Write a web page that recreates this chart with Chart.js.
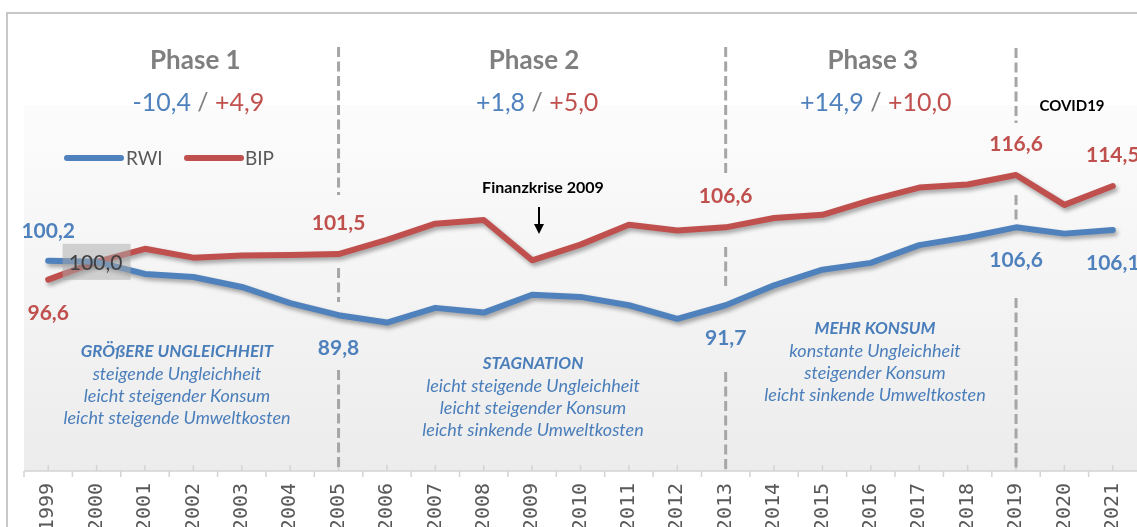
<!DOCTYPE html>
<html><head><meta charset="utf-8">
<script src="https://cdn.jsdelivr.net/npm/chart.js@4/dist/chart.umd.min.js"></script>
<style>html,body{margin:0;padding:0;background:#fff;overflow:hidden}canvas{display:block}</style>
</head><body>
<canvas id="c" width="1137" height="527"></canvas>
<script>
// ---- data ----
const years = ['1999','2000','2001','2002','2003','2004','2005','2006','2007','2008','2009','2010','2011','2012','2013','2014','2015','2016','2017','2018','2019','2020','2021'];
const rwi = [100.2,100.0,97.7,97.1,95.2,92.1,89.8,88.4,91.2,90.3,93.7,93.3,91.7,89.1,91.7,95.5,98.5,99.8,103.2,104.7,106.6,105.4,106.1];
const bip = [96.6,100.0,102.5,100.8,101.2,101.3,101.5,104.2,107.3,108.0,100.3,103.3,107.1,106.0,106.6,108.4,109.0,111.8,114.2,114.8,116.6,110.9,114.5];
const seriesNames = ['RWI','BIP'];
const phaseTitles = ['Phase 1','Phase 2','Phase 3'];
const phaseRwi = ['-10,4','+1,8','+14,9'];
const phaseBip = ['+4,9','+5,0','+10,0'];
const phaseCenterYears = ['2002','2009','2016'];
const phaseBreakYears = ['2005','2013','2019'];
const labelYears = ['1999','2005','2013','2019','2021'];
const baseYear = '2000';
const phaseNotes = [
  ['GRÖßERE UNGLEICHHEIT','steigende Ungleichheit','leicht steigender Konsum','leicht steigende Umweltkosten'],
  ['STAGNATION','leicht steigende Ungleichheit','leicht steigender Konsum','leicht sinkende Umweltkosten'],
  ['MEHR KONSUM','konstante Ungleichheit','steigender Konsum','leicht sinkende Umweltkosten']
];
const eventNotes = ['Finanzkrise 2009','COVID19'];

// ---- style ----
const BLUE = '#4f81bd', RED = '#c0504d', GRAY = '#7f7f7f';
const F = 'Lato, "Open Sans", sans-serif';
const fmt = v => v.toFixed(1).replace('.', ',');

const deco = {
  id: 'deco',
  beforeDraw(chart) {
    const {ctx, chartArea: a} = chart;
    ctx.save();
    ctx.fillStyle = '#fff';
    ctx.fillRect(0, 0, chart.width, chart.height);
    const g = ctx.createLinearGradient(0, a.top, 0, a.bottom);
    g.addColorStop(0, '#fcfcfc');
    g.addColorStop(1, '#ececec');
    ctx.fillStyle = g;
    ctx.fillRect(a.left, a.top, a.right - a.left, a.bottom - a.top);
    ctx.strokeStyle = '#c8c8c8';
    ctx.lineWidth = 2;
    ctx.beginPath();
    ctx.moveTo(7, chart.height + 2); ctx.lineTo(7, 13); ctx.lineTo(chart.width + 2, 13);
    ctx.stroke();
    ctx.restore();
  },
  beforeDatasetsDraw(chart) {
    const {ctx, chartArea: a, scales: {x}} = chart;
    ctx.save();
    ctx.strokeStyle = '#d4d4d4';
    ctx.lineWidth = 1.5;
    ctx.beginPath();
    ctx.moveTo(a.left, a.bottom); ctx.lineTo(a.right, a.bottom);
    const step = x.getPixelForValue(1) - x.getPixelForValue(0);
    years.forEach((y, i) => {
      const px = x.getPixelForValue(i);
      ctx.moveTo(px, a.bottom - 6); ctx.lineTo(px, a.bottom);
      const bx = px - step / 2;
      ctx.moveTo(bx, a.bottom); ctx.lineTo(bx, a.bottom + 6);
    });
    ctx.stroke();
    const segs = [
      [[47,195],[268,302],[370,a.bottom]],
      [[47,177],[247,288],[372,a.bottom]],
      [[48,123],[195,222],[298,a.bottom]]
    ];
    ctx.strokeStyle = '#a6a6a6';
    ctx.lineWidth = 3;
    ctx.setLineDash([10, 4.5]);
    phaseBreakYears.forEach((yr, k) => {
      const px = x.getPixelForValue(years.indexOf(yr));
      segs[k].forEach(([y0, y1]) => {
        ctx.beginPath(); ctx.moveTo(px, y0); ctx.lineTo(px, y1); ctx.stroke();
      });
    });
    ctx.restore();
  },
  beforeDatasetDraw(chart) {
    const ctx = chart.ctx;
    ctx.save();
    ctx.shadowColor = 'rgba(0,0,0,0.35)';
    ctx.shadowBlur = 4;
    ctx.shadowOffsetX = 2;
    ctx.shadowOffsetY = 3;
  },
  afterDatasetDraw(chart) { chart.ctx.restore(); },
  afterDatasetsDraw(chart) {
    const {ctx, scales: {x, y}} = chart;
    ctx.save();
    ctx.textAlign = 'center';
    ctx.textBaseline = 'middle';
    const bi = years.indexOf(baseYear);
    const bxp = x.getPixelForValue(bi), byp = y.getPixelForValue(rwi[bi]);
    ctx.fillStyle = 'rgba(170,170,170,0.5)';
    ctx.fillRect(bxp - 34, byp - 18, 68, 36);
    ctx.fillStyle = '#404040';
    ctx.font = '21px ' + F;
    ctx.fillText(fmt(rwi[bi]), bxp - 1, byp + 1);
    ctx.font = 'bold 21px ' + F;
    labelYears.forEach((yr, k) => {
      const i = years.indexOf(yr);
      const px = x.getPixelForValue(i);
      const yb = y.getPixelForValue(rwi[i]);
      const yr2 = y.getPixelForValue(bip[i]);
      ctx.fillStyle = BLUE;
      const dB = k === 0 ? -30 : 33;
      ctx.fillText(fmt(rwi[i]), px, yb + dB);
      ctx.fillStyle = RED;
      const dR = k === 0 ? 34 : -31;
      ctx.fillText(fmt(bip[i]), px, yr2 + dR);
    });
    phaseTitles.forEach((t, k) => {
      const px = x.getPixelForValue(years.indexOf(phaseCenterYears[k]));
      ctx.font = 'bold 26px ' + F;
      ctx.fillStyle = GRAY;
      ctx.textAlign = 'center';
      ctx.fillText(t, px + 2, 61);
      ctx.font = '25px ' + F;
      const p1 = phaseRwi[k], p2 = ' / ', p3 = phaseBip[k];
      const w1 = ctx.measureText(p1).width, w2 = ctx.measureText(p2).width, w3 = ctx.measureText(p3).width;
      let sx = px + 5 - (w1 + w2 + w3) / 2;
      ctx.textAlign = 'left';
      ctx.fillStyle = BLUE; ctx.fillText(p1, sx, 103); sx += w1;
      ctx.fillStyle = GRAY; ctx.fillText(p2, sx, 103); sx += w2;
      ctx.fillStyle = RED; ctx.fillText(p3, sx, 103);
    });
    const legend = [[BLUE, 67, 121, 126], [RED, 187, 241, 245]];
    ctx.lineCap = 'round';
    ctx.lineWidth = 6;
    legend.forEach(([c, x0, x1, tx], k) => {
      ctx.strokeStyle = c;
      ctx.beginPath(); ctx.moveTo(x0, 158); ctx.lineTo(x1, 158); ctx.stroke();
      ctx.fillStyle = '#595959';
      ctx.font = '19px ' + F;
      ctx.textAlign = 'left';
      ctx.fillText(seriesNames[k], tx, 159);
    });
    ctx.textAlign = 'center';
    ctx.fillStyle = '#4a7ebb';
    const notePos = [[177, 352], [533, 364], [875, 329]];
    phaseNotes.forEach((lines, k) => {
      const [cx, cy] = notePos[k];
      lines.forEach((ln, j) => {
        ctx.font = (j === 0 ? 'italic bold 17px ' : 'italic 18px ') + F;
        ctx.fillText(ln, cx, cy + j * 22);
      });
    });
    ctx.fillStyle = '#000';
    ctx.font = 'bold 16px ' + F;
    ctx.fillText(eventNotes[0], 543, 188);
    ctx.font = 'bold 15px ' + F;
    ctx.fillText(eventNotes[1], 1072, 106);
    ctx.strokeStyle = '#000';
    ctx.lineWidth = 2;
    ctx.lineCap = 'butt';
    ctx.beginPath(); ctx.moveTo(539, 207); ctx.lineTo(539, 226); ctx.stroke();
    ctx.beginPath(); ctx.moveTo(534, 224); ctx.lineTo(544, 224); ctx.lineTo(539, 234); ctx.closePath(); ctx.fill();
    ctx.restore();
  }
};

new Chart(document.getElementById('c'), {
  type: 'line',
  data: {
    labels: years,
    datasets: [
      {label: seriesNames[0], data: rwi, borderColor: BLUE, borderWidth: 6, pointRadius: 0, tension: 0, borderCapStyle: 'round', borderJoinStyle: 'round', fill: false},
      {label: seriesNames[1], data: bip, borderColor: RED, borderWidth: 6, pointRadius: 0, tension: 0, borderCapStyle: 'round', borderJoinStyle: 'round', fill: false}
    ]
  },
  options: {
    responsive: false, animation: false, devicePixelRatio: 1,
    layout: {padding: {left: 24, right: 0, top: 105, bottom: 0}},
    plugins: {legend: {display: false}, tooltip: {enabled: false}},
    scales: {
      x: {
        offset: true,
        grid: {display: false, drawTicks: false},
        border: {display: false},
        ticks: {autoSkip: false, maxRotation: 90, minRotation: 90, padding: 12, color: '#595959', font: {family: '"DejaVu Sans Mono", monospace', size: 20}},
        afterFit(s) { s.height = 56; s.paddingLeft = 0; s.paddingRight = 0; }
      },
      y: {display: false, min: 60, max: 130}
    }
  },
  plugins: [deco]
});
</script>
</body></html>
